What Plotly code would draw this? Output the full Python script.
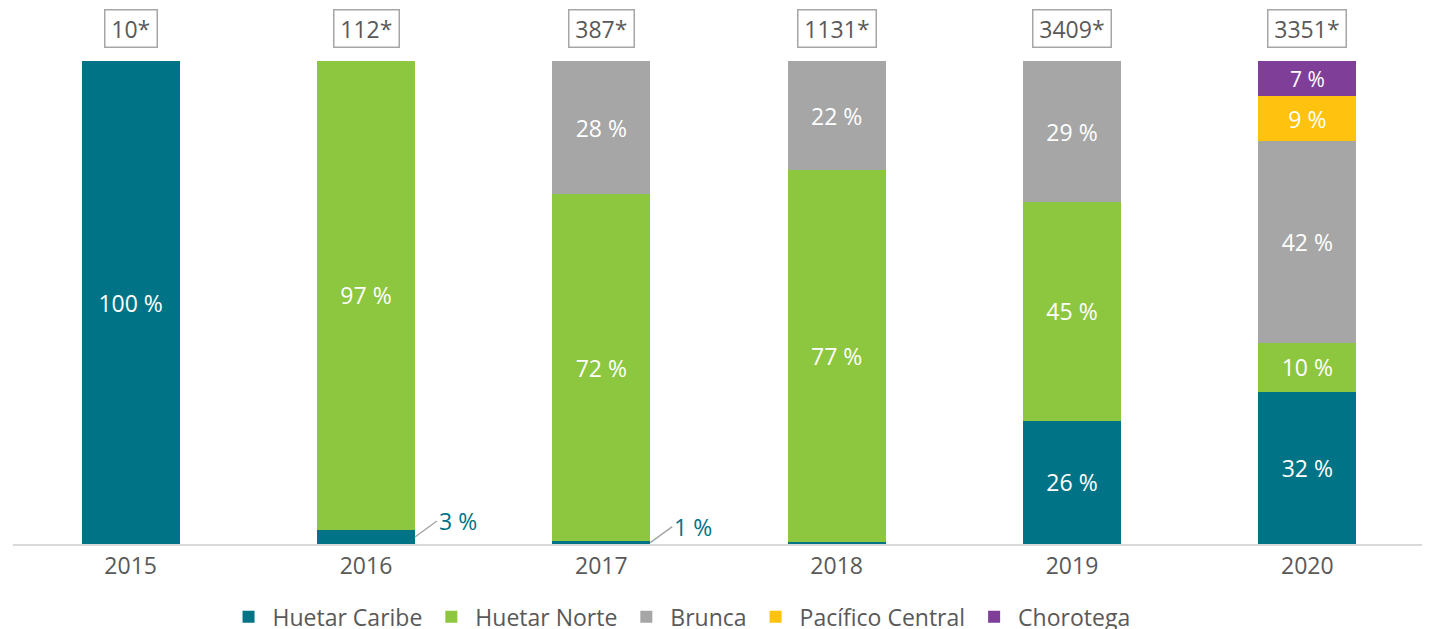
import plotly.graph_objects as go

years = ["2015", "2016", "2017", "2018", "2019", "2020"]
huetar_caribe = [100, 2.9, 0.6, 0.5, 25.5, 31.5]
huetar_norte = [None, 97.1, 71.8, 76.9, 45.3, 10.1]
brunca = [None, None, 27.6, 22.6, 29.2, 41.8]
pacifico_central = [None, None, None, None, None, 9.3]
chorotega = [None, None, None, None, None, 7.3]

hc_labels = ["100 %", "", "", "", "26 %", "32 %"]
hc_outside = ["", "3 %", "1 %", "", "", ""]
hn_labels = ["", "97 %", "72 %", "77 %", "45 %", "10 %"]
br_labels = ["", "", "28 %", "22 %", "29 %", "42 %"]
pc_labels = ["", "", "", "", "", "9 %"]
ch_labels = ["", "", "", "", "", "7 %"]
totals = ["10*", "112*", "387*", "1131*", "3409*", "3351*"]

FONT = "Open Sans"
FS = 23
TEAL = "#007386"
series = [
    ("Huetar Caribe", huetar_caribe, hc_labels, TEAL),
    ("Huetar Norte", huetar_norte, hn_labels, "#8DC63F"),
    ("Brunca", brunca, br_labels, "#A5A6A5"),
    ("Pacífico Central", pacifico_central, pc_labels, "#FFC20E"),
    ("Chorotega", chorotega, ch_labels, "#7F3F98"),
]

fig = go.Figure()
for name, vals, labels, color in series:
    fig.add_trace(go.Bar(
        x=years, y=vals, name=name, marker=dict(color=color, line=dict(width=0)),
        text=labels, textposition="inside", insidetextanchor="middle", textangle=0,
        textfont=dict(color="white", size=FS, family=FONT),
        hoverinfo="skip",
    ))

annotations = []
bar_half = 0.208
for i, t in enumerate(totals):
    annotations.append(dict(
        x=i, y=1, xref="x", yref="paper", yanchor="middle", yshift=33,
        text="\u2009" + t + "\u2009",
        showarrow=False, font=dict(size=FS, color="#595959", family=FONT),
        bordercolor="#A6A6A6", borderwidth=1.5, borderpad=2, bgcolor="white",
    ))
for i, t in enumerate(hc_outside):
    if t:
        annotations.append(dict(
            x=i + bar_half, y=huetar_caribe[i] / 2, xref="x", yref="y", text=t,
            showarrow=True, arrowhead=0, arrowwidth=1.5, arrowcolor="#A6A6A6",
            ax=22, ay=-16, xanchor="left", yanchor="middle",
            font=dict(size=FS, color=TEAL, family=FONT),
        ))

fig.update_layout(
    width=1430, height=629,
    barmode="stack", bargap=0.583,
    plot_bgcolor="white", paper_bgcolor="white",
    margin=dict(l=5, r=13, t=53, b=93, autoexpand=False),
    font=dict(family=FONT, color="#595959"),
    xaxis=dict(type="category", showline=True, linecolor="#D9D9D9", linewidth=2, ticks="",
               tickfont=dict(size=FS, color="#595959", family=FONT)),
    yaxis=dict(range=[0, 100], visible=False),
    legend=dict(orientation="h", x=0.4724, xanchor="center", yref="container", y=0.032,
                yanchor="middle", font=dict(size=FS, color="#595959", family=FONT),
                traceorder="normal", itemwidth=38),
    annotations=annotations,
    showlegend=True,
)
fig.write_html("out.html")
